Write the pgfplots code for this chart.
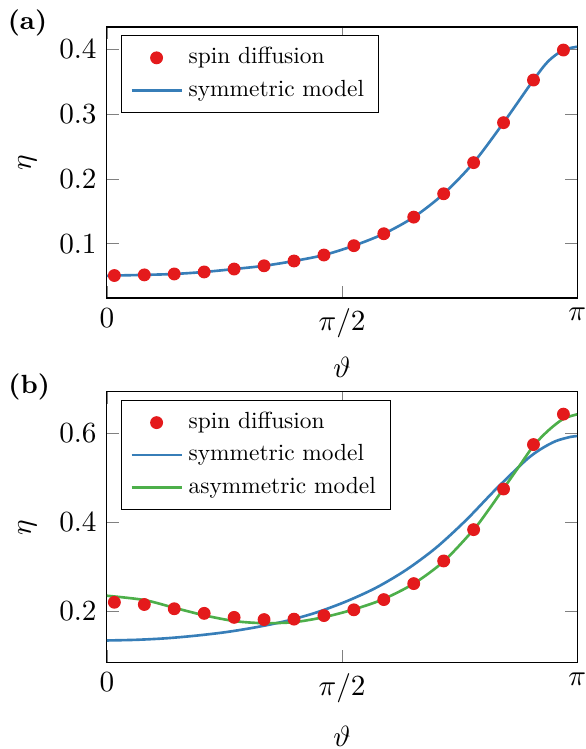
\documentclass[border=0pt]{standalone}
\usepackage{fontspec}
\usepackage{pgfplots}
\pgfplotsset{compat=1.18}
\newfontfamily\legfont{lmroman10-regular.otf}
\definecolor{setred}{HTML}{E41A1C}
\definecolor{setblue}{HTML}{377EB8}
\definecolor{setgreen}{HTML}{4DAF4A}

\pgfplotstableread{
x y
0.05 0.0510
0.25 0.0520
0.45 0.0534
0.65 0.0565
0.85 0.0610
1.05 0.0660
1.25 0.0734
1.45 0.0826
1.65 0.0970
1.85 0.1154
2.05 0.1410
2.25 0.1770
2.45 0.2250
2.65 0.2866
2.85 0.3523
3.05 0.3985
}\dotsA

\pgfplotstableread{
x y
0.00 0.0505
0.05 0.0510
0.25 0.0520
0.45 0.0534
0.65 0.0565
0.85 0.0610
1.05 0.0660
1.25 0.0734
1.45 0.0826
1.65 0.0970
1.85 0.1154
2.05 0.1410
2.25 0.1770
2.45 0.2250
2.65 0.2866
2.85 0.3523
2.95 0.3816
3.05 0.3985
3.14159 0.4035
}\symA

\pgfplotstableread{
x y
0.05 0.220
0.25 0.215
0.45 0.2054
0.65 0.195
0.85 0.186
1.05 0.181
1.25 0.182
1.45 0.190
1.65 0.203
1.85 0.226
2.05 0.262
2.25 0.313
2.45 0.3835
2.65 0.475
2.85 0.575
3.05 0.6435
}\dotsB

\pgfplotstableread{
x y
0.0 0.1340
0.2 0.1355
0.4 0.1390
0.6 0.1450
0.8 0.1530
1.0 0.1640
1.2 0.1780
1.4 0.1970
1.6 0.2220
1.8 0.2530
2.0 0.2930
2.2 0.3430
2.4 0.4050
2.6 0.4750
2.8 0.5400
2.9 0.5650
3.0 0.5830
3.1 0.5925
3.14159 0.5940
}\symB

\pgfplotstableread{
x y
0.00 0.2347
0.25 0.2250
0.45 0.2076
0.655 0.1903
0.856 0.1775
1.045 0.1730
1.25 0.1752
1.45 0.1865
1.64 0.2030
1.84 0.2260
2.05 0.2620
2.25 0.3120
2.45 0.3835
2.55 0.4280
2.65 0.4760
2.75 0.5240
2.85 0.5720
2.95 0.6070
3.05 0.6330
3.14159 0.6430
}\asymB

\begin{document}
\begin{tikzpicture}
\pgfplotsset{
  myaxis/.style={
    scale only axis,
    width=161pt, height=92.8pt,
    xmin=0, xmax=3.14159,
    xtick={0,1.570796,3.14159},
    xticklabels={$0$,$\pi/2$,$\pi$},
    xlabel={$\vartheta$},
    ylabel={$\eta$},
    ylabel style={at={(axis description cs:-0.169,0.5)}, anchor=center},
    legend style={font=\legfont\fontsize{8}{9.5}\selectfont, at={(0.03,0.97)}, anchor=north west, draw=black},
    legend cell align=left,
  },
  dotstyle/.style={only marks, mark=*, mark size=2pt, color=setred, mark options={draw=setred, fill=setred}},
}
\begin{axis}[myaxis, name=top, at={(0,0)}, anchor=south west,
  ymin=0.0163, ymax=0.434, ytick={0.1,0.2,0.3,0.4},
  xlabel style={at={(axis description cs:0.5,0)}, anchor=center, yshift=-23.6pt}]
\addlegendimage{dotstyle}
\addlegendentry{spin diffusion}
\addplot[setblue, line width=0.9pt, smooth] table[x=x,y=y] {\symA};
\addlegendentry{symmetric model}
\addplot[dotstyle, forget plot] table[x=x,y=y] {\dotsA};
\end{axis}

\begin{axis}[myaxis, name=bot, at={(0,-32.1pt)}, anchor=north west,
  ymin=0.0836, ymax=0.6938, ytick={0.2,0.4,0.6},
  xlabel style={at={(axis description cs:0.5,0)}, anchor=center, yshift=-25pt}]
\addlegendimage{dotstyle}
\addlegendentry{spin diffusion}
\addplot[setblue, line width=0.9pt, smooth] table[x=x,y=y] {\symB};
\addlegendentry{symmetric model}
\addplot[setgreen, line width=0.9pt, smooth] table[x=x,y=y] {\asymB};
\addlegendentry{asymmetric model}
\addplot[dotstyle, forget plot] table[x=x,y=y] {\dotsB};
\end{axis}

\node[font=\small\bfseries] at (-27.2pt,94.2pt) {(a)};
\node[font=\small\bfseries] at (-26.6pt,-30.6pt) {(b)};

\pgfresetboundingbox
\path[use as bounding box] (-36.6pt,-154.4pt) rectangle (163.7pt,102.05pt);
\end{tikzpicture}
\end{document}
